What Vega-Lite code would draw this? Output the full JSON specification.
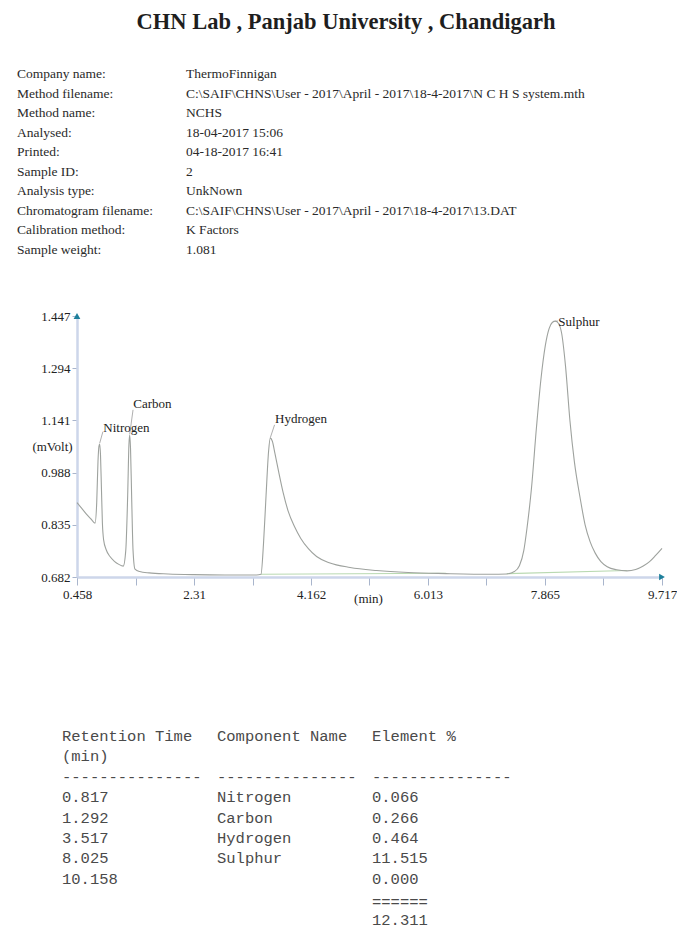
{
  "$schema": "https://vega.github.io/schema/vega-lite/v6.json",
  "padding": {"left": 17, "top": 10, "right": 0, "bottom": 0},
  "background": "white",
  "spacing": 20,
  "bounds": "flush",
  "config": {"view": {"stroke": null}, "font": "Liberation Serif", "axis": {"grid": false}},
  "datasets": {
    "meta": [
      {"row": 0, "col": "label", "text": "Company name:"},
      {"row": 0, "col": "value", "text": "ThermoFinnigan"},
      {"row": 1, "col": "label", "text": "Method filename:"},
      {"row": 1, "col": "value", "text": "C:\\SAIF\\CHNS\\User - 2017\\April - 2017\\18-4-2017\\N C H S system.mth"},
      {"row": 2, "col": "label", "text": "Method name:"},
      {"row": 2, "col": "value", "text": "NCHS"},
      {"row": 3, "col": "label", "text": "Analysed:"},
      {"row": 3, "col": "value", "text": "18-04-2017  15:06"},
      {"row": 4, "col": "label", "text": "Printed:"},
      {"row": 4, "col": "value", "text": "04-18-2017  16:41"},
      {"row": 5, "col": "label", "text": "Sample ID:"},
      {"row": 5, "col": "value", "text": "2"},
      {"row": 6, "col": "label", "text": "Analysis type:"},
      {"row": 6, "col": "value", "text": "UnkNown"},
      {"row": 7, "col": "label", "text": "Chromatogram filename:"},
      {"row": 7, "col": "value", "text": "C:\\SAIF\\CHNS\\User - 2017\\April - 2017\\18-4-2017\\13.DAT"},
      {"row": 8, "col": "label", "text": "Calibration method:"},
      {"row": 8, "col": "value", "text": "K Factors"},
      {"row": 9, "col": "label", "text": "Sample weight:"},
      {"row": 9, "col": "value", "text": "1.081"}
    ],
    "trace": [
      {"t": 0.458, "v": 0.900}, {"t": 0.52, "v": 0.886}, {"t": 0.60, "v": 0.868}, {"t": 0.68, "v": 0.852},
      {"t": 0.743, "v": 0.840}, {"t": 0.77, "v": 0.90}, {"t": 0.79, "v": 1.02}, {"t": 0.805, "v": 1.065},
      {"t": 0.817, "v": 1.072}, {"t": 0.83, "v": 1.04}, {"t": 0.845, "v": 0.94}, {"t": 0.86, "v": 0.84},
      {"t": 0.88, "v": 0.79}, {"t": 0.92, "v": 0.762}, {"t": 0.98, "v": 0.742}, {"t": 1.05, "v": 0.728},
      {"t": 1.12, "v": 0.719}, {"t": 1.19, "v": 0.714}, {"t": 1.23, "v": 0.76}, {"t": 1.26, "v": 0.92},
      {"t": 1.28, "v": 1.07}, {"t": 1.292, "v": 1.098}, {"t": 1.305, "v": 1.06}, {"t": 1.325, "v": 0.90},
      {"t": 1.345, "v": 0.76}, {"t": 1.376, "v": 0.705}, {"t": 1.45, "v": 0.698}, {"t": 1.6, "v": 0.694},
      {"t": 1.9, "v": 0.691}, {"t": 2.3, "v": 0.689}, {"t": 2.8, "v": 0.688}, {"t": 3.30, "v": 0.688},
      {"t": 3.37, "v": 0.690}, {"t": 3.41, "v": 0.78}, {"t": 3.45, "v": 0.92}, {"t": 3.49, "v": 1.05},
      {"t": 3.517, "v": 1.089}, {"t": 3.55, "v": 1.08}, {"t": 3.59, "v": 1.045}, {"t": 3.65, "v": 0.99},
      {"t": 3.72, "v": 0.93}, {"t": 3.80, "v": 0.875}, {"t": 3.90, "v": 0.830}, {"t": 4.00, "v": 0.795},
      {"t": 4.12, "v": 0.765}, {"t": 4.25, "v": 0.742}, {"t": 4.45, "v": 0.724}, {"t": 4.78, "v": 0.710},
      {"t": 5.2, "v": 0.701}, {"t": 5.7, "v": 0.695}, {"t": 6.3, "v": 0.692}, {"t": 7.0, "v": 0.690},
      {"t": 7.26, "v": 0.691}, {"t": 7.38, "v": 0.698}, {"t": 7.46, "v": 0.715}, {"t": 7.53, "v": 0.76},
      {"t": 7.58, "v": 0.825}, {"t": 7.65, "v": 0.94}, {"t": 7.73, "v": 1.12}, {"t": 7.80, "v": 1.26},
      {"t": 7.87, "v": 1.36}, {"t": 7.93, "v": 1.41}, {"t": 7.98, "v": 1.428}, {"t": 8.03, "v": 1.432},
      {"t": 8.08, "v": 1.425}, {"t": 8.13, "v": 1.395}, {"t": 8.19, "v": 1.30}, {"t": 8.26, "v": 1.14},
      {"t": 8.33, "v": 1.02}, {"t": 8.42, "v": 0.915}, {"t": 8.50, "v": 0.835}, {"t": 8.58, "v": 0.785},
      {"t": 8.66, "v": 0.752}, {"t": 8.75, "v": 0.727}, {"t": 8.85, "v": 0.712}, {"t": 9.0, "v": 0.703},
      {"t": 9.16, "v": 0.700}, {"t": 9.30, "v": 0.704}, {"t": 9.42, "v": 0.714}, {"t": 9.52, "v": 0.727},
      {"t": 9.62, "v": 0.746}, {"t": 9.717, "v": 0.766}
    ],
    "base": [
      {"seg": "c", "t": 3.37, "v": 0.690}, {"seg": "c", "t": 6.3, "v": 0.693},
      {"seg": "d", "t": 7.26, "v": 0.692}, {"seg": "d", "t": 9.16, "v": 0.701}
    ],
    "peaks": [
      {"name": "Nitrogen", "t": 0.817, "v": 1.074, "t2": 0.868, "v2": 1.108, "lt": 0.874, "lv": 1.120},
      {"name": "Carbon", "t": 1.292, "v": 1.100, "t2": 1.345, "v2": 1.172, "lt": 1.349, "lv": 1.188},
      {"name": "Hydrogen", "t": 3.517, "v": 1.090, "t2": 3.585, "v2": 1.128, "lt": 3.592, "lv": 1.145},
      {"name": "Sulphur", "t": 8.03, "v": 1.432, "t2": 8.07, "v2": 1.432, "lt": 8.076, "lv": 1.430}
    ],
    "arrows": [
      {"axis": "y", "t": 0.458, "v": 1.447},
      {"axis": "x", "t": 9.717, "v": 0.682}
    ],
    "table": [
      {"line": 0, "col": "rt", "text": "Retention Time"},
      {"line": 0, "col": "name", "text": "Component Name"},
      {"line": 0, "col": "pct", "text": "Element %"},
      {"line": 1, "col": "rt", "text": "(min)"},
      {"line": 2, "col": "rt", "text": "---------------"},
      {"line": 2, "col": "name", "text": "---------------"},
      {"line": 2, "col": "pct", "text": "---------------"},
      {"line": 3, "col": "rt", "text": "0.817"},
      {"line": 3, "col": "name", "text": "Nitrogen"},
      {"line": 3, "col": "pct", "text": "0.066"},
      {"line": 4, "col": "rt", "text": "1.292"},
      {"line": 4, "col": "name", "text": "Carbon"},
      {"line": 4, "col": "pct", "text": "0.266"},
      {"line": 5, "col": "rt", "text": "3.517"},
      {"line": 5, "col": "name", "text": "Hydrogen"},
      {"line": 5, "col": "pct", "text": "0.464"},
      {"line": 6, "col": "rt", "text": "8.025"},
      {"line": 6, "col": "name", "text": "Sulphur"},
      {"line": 6, "col": "pct", "text": "11.515"},
      {"line": 7, "col": "rt", "text": "10.158"},
      {"line": 7, "col": "pct", "text": "0.000"},
      {"line": 8, "col": "pct", "text": "======"},
      {"line": 9, "col": "pct", "text": "12.311"}
    ]
  },
  "vconcat": [
    {
      "width": 538,
      "height": 222,
      "title": {
        "text": "CHN Lab , Panjab University , Chandigarh",
        "font": "Liberation Serif",
        "fontSize": 22.5,
        "fontWeight": "bold",
        "color": "#1e1e1e",
        "anchor": "middle",
        "frame": "group",
        "offset": 34
      },
      "data": {"name": "meta"},
      "mark": {"type": "text", "align": "left", "baseline": "middle", "font": "Liberation Serif", "fontSize": 13.5, "color": "#2a2a2a"},
      "encoding": {
        "x": {"field": "col", "type": "nominal", "scale": {"type": "point", "domain": ["label", "value"], "range": [-60, 109], "padding": 0}, "axis": null},
        "y": {"field": "row", "type": "ordinal", "scale": {"type": "point", "domain": [0, 1, 2, 3, 4, 5, 6, 7, 8, 9], "range": [0, 176], "padding": 0}, "axis": null},
        "text": {"field": "text"}
      }
    },
    {
      "width": 585,
      "height": 261,
      "layer": [
        {
          "data": {"name": "base"},
          "mark": {"type": "line", "color": "#b9d9b1", "strokeWidth": 1.2},
          "encoding": {
            "x": {"field": "t", "type": "quantitative", "title": "(min)"},
            "y": {"field": "v", "type": "quantitative", "title": "(mVolt)"},
            "detail": {"field": "seg"}
          }
        },
        {
          "data": {"name": "trace"},
          "mark": {"type": "line", "color": "#9ea29e", "strokeWidth": 1.1, "interpolate": "monotone"},
          "encoding": {
            "x": {
              "field": "t", "type": "quantitative",
              "scale": {"domain": [0.458, 9.717], "nice": false, "zero": false},
              "axis": {
                "values": [0.458, 1.384, 2.31, 3.236, 4.162, 5.087, 6.013, 6.939, 7.865, 8.791, 9.717],
                "format": ".3~f",
                "labelExpr": "indexof([0.458, 2.31, 4.162, 6.013, 7.865, 9.717], datum.value) >= 0 ? datum.label : ''",
                "title": "(min)", "titleX": 291, "titleY": 21, "titleAlign": "center", "titleBaseline": "middle",
                "titleFont": "Liberation Serif", "titleFontSize": 13, "titleFontWeight": "normal", "titleColor": "#222",
                "domainColor": "#cdd6ea", "domainWidth": 2.5, "tickColor": "#a9b5cc", "tickSize": 8, "tickWidth": 1,
                "labelFont": "Liberation Serif", "labelFontSize": 13, "labelColor": "#222", "labelPadding": 3,
                "labelFlush": false, "labelOverlap": false, "labelBound": false
              }
            },
            "y": {
              "field": "v", "type": "quantitative",
              "scale": {"domain": [0.682, 1.447], "nice": false, "zero": false},
              "axis": {
                "values": [0.682, 0.835, 0.988, 1.141, 1.294, 1.447],
                "format": ".3f",
                "title": "(mVolt)", "titleAngle": 0, "titleX": -25, "titleY": 130, "titleAlign": "center", "titleBaseline": "middle",
                "titleFont": "Liberation Serif", "titleFontSize": 13, "titleFontWeight": "normal", "titleColor": "#222",
                "domainColor": "#cdd6ea", "domainWidth": 2.5, "tickColor": "#a9b5cc", "tickSize": 5, "tickWidth": 1,
                "labelFont": "Liberation Serif", "labelFontSize": 13, "labelColor": "#222", "labelPadding": 2,
                "labelFlush": false, "labelOverlap": false, "labelBound": false
              }
            }
          }
        },
        {
          "data": {"name": "peaks"},
          "mark": {"type": "rule", "color": "#9a9a9a", "strokeWidth": 0.8},
          "encoding": {
            "x": {"field": "t", "type": "quantitative", "title": "(min)"},
            "y": {"field": "v", "type": "quantitative", "title": "(mVolt)"},
            "x2": {"field": "t2"},
            "y2": {"field": "v2"}
          }
        },
        {
          "data": {"name": "peaks"},
          "mark": {"type": "text", "align": "left", "baseline": "middle", "font": "Liberation Serif", "fontSize": 13, "color": "#222"},
          "encoding": {
            "x": {"field": "lt", "type": "quantitative", "title": "(min)"},
            "y": {"field": "lv", "type": "quantitative", "title": "(mVolt)"},
            "text": {"field": "name"}
          }
        },
        {
          "data": {"name": "arrows"},
          "mark": {"type": "point", "filled": true, "color": "#1d7f9b", "opacity": 1, "size": 45},
          "encoding": {
            "x": {"field": "t", "type": "quantitative", "title": "(min)"},
            "y": {"field": "v", "type": "quantitative", "title": "(mVolt)"},
            "shape": {"field": "axis", "type": "nominal", "scale": {"domain": ["y", "x"], "range": ["triangle-up", "triangle-right"]}, "legend": null}
          }
        }
      ]
    },
    {
      "width": 538,
      "height": 331,
      "data": {"name": "table"},
      "encoding": {
        "x": {"field": "col", "type": "nominal", "scale": {"type": "point", "domain": ["rt", "name", "pct"], "range": [-15, 295], "padding": 0}, "axis": null},
        "y": {"field": "line", "type": "ordinal", "scale": {"type": "point", "domain": [0, 1, 2, 3, 4, 5, 6, 7, 8, 9], "range": [139, 322.6], "padding": 0}, "axis": null},
        "text": {"field": "text"}
      },
      "layer": [
        {
          "transform": [{"filter": "datum.line != 8"}],
          "mark": {"type": "text", "align": "left", "baseline": "middle", "font": "Liberation Mono", "fontSize": 15.5, "color": "#4a4a4a"}
        },
        {
          "transform": [{"filter": "datum.line == 8"}],
          "mark": {"type": "text", "align": "left", "baseline": "middle", "font": "Liberation Mono", "fontSize": 15.5, "color": "#4a4a4a", "dy": 3}
        }
      ]
    }
  ]
}
